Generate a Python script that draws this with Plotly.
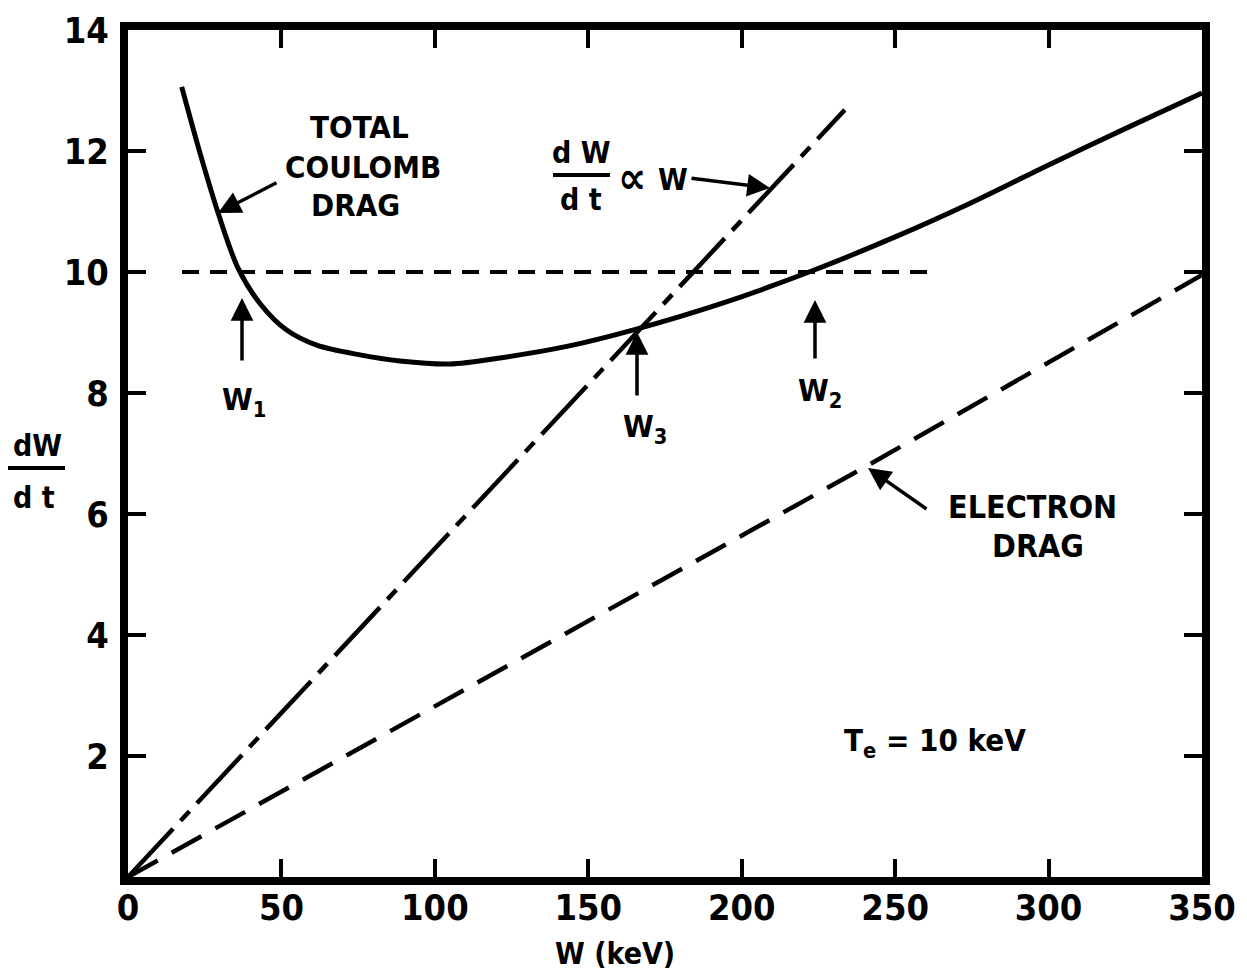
import plotly.graph_objects as go

# ---------------- data ----------------
total_W = [17.5, 23.5, 29.4, 35.9, 43.0, 51.7, 61.5, 75.6, 88.6, 104.9, 121.2, 143.0, 164.5, 194.0, 223.0, 250.0, 275.0, 300.0, 325.0, 350.0]
total_y = [13.06, 11.96, 10.97, 10.06, 9.48, 9.04, 8.79, 8.63, 8.53, 8.48, 8.58, 8.77, 9.04, 9.49, 10.02, 10.58, 11.15, 11.77, 12.37, 12.96]

prop_W = [0.0, 233.6]
prop_y = [0.0, 12.68]

elec_W = [0.0, 241.0, 350.0]
elec_y = [0.0, 6.80, 9.95]

level_W = [17.6, 261.3]
level_y = [10.0, 10.0]

x_ticks = [0, 50, 100, 150, 200, 250, 300, 350]
x_ticktext = ["0", "50", "100", "150", "200", "250", "300", "350"]
y_ticks = [0, 2, 4, 6, 8, 10, 12, 14]
y_ticktext = ["", "2", "4", "6", "8", "10", "12", "14"]

# ---------------- layout helpers ----------------
PAGE_W, PAGE_H = 1247, 978
OFF = 8  # default body margin of the html page
FIG_W, FIG_H = PAGE_W - 2 * OFF, PAGE_H - 2 * OFF
L, R, T, B = 128, 1202, 30, 877   # plot area in page pixels
XMAX, YMAX = 350, 14

def dx(px):
    return (px - L) / (R - L) * XMAX

def dy(py):
    return (B - py) / (B - T) * YMAX

def px_paper(px):
    return (px - L) / (R - L)

def py_paper(py):
    return (B - py) / (B - T)

FONT = "DejaVu Sans Condensed, DejaVu Sans, sans-serif"

fig = go.Figure()

fig.add_trace(go.Scatter(x=total_W, y=total_y, mode="lines", line=dict(color="black", width=5, shape="spline", smoothing=0.9), showlegend=False))
fig.add_trace(go.Scatter(x=prop_W, y=prop_y, mode="lines", line=dict(color="black", width=4.5, dash="66px,11px,13px,11px"), showlegend=False))
fig.add_trace(go.Scatter(x=elec_W, y=elec_y, mode="lines", line=dict(color="black", width=4.5, dash="34px,16px"), showlegend=False))
fig.add_trace(go.Scatter(x=level_W, y=level_y, mode="lines", line=dict(color="black", width=4, dash="17px,11px"), showlegend=False))

annotations = []

def text(px, py, s, size=30):
    annotations.append(dict(x=px_paper(px), y=py_paper(py), xref="paper", yref="paper", text=s, showarrow=False,
                            font=dict(family=FONT, size=size, color="black", weight="bold"), xanchor="center", yanchor="middle"))

def arrow(hx, hy, tx, ty):
    annotations.append(dict(x=dx(hx), y=dy(hy), xref="x", yref="y", ax=tx - hx, ay=ty - hy, axref="pixel", ayref="pixel",
                            text="", showarrow=True, arrowhead=2, arrowsize=1.3, arrowwidth=3.5, arrowcolor="black"))

text(359, 127, "TOTAL", 31)
text(363, 167, "COULOMB", 31)
text(355, 205, "DRAG", 31)
arrow(218, 213, 278, 182)

text(581, 152, "d W", 30)
text(581, 200, "d t", 30)
text(632, 178, "∝", 44)
text(673, 179, "W", 30)
arrow(770, 188, 690, 178)

text(244, 402, "W<sub>1</sub>", 31)
arrow(242, 298, 242, 362)
text(645, 428, "W<sub>3</sub>", 31)
arrow(637, 332, 637, 397)
text(820, 392, "W<sub>2</sub>", 31)
arrow(815, 300, 815, 360)

text(1032, 507, "ELECTRON", 32)
text(1038, 546, "DRAG", 32)
arrow(868, 468, 928, 510)

text(935, 742, "T<sub>e</sub> = 10 keV", 31)

text(37, 445, "dW", 30)
text(34, 497, "d t", 30)
text(615, 953, "W (keV)", 30)

shapes = [
    dict(type="line", xref="paper", yref="paper", x0=px_paper(553), x1=px_paper(610), y0=py_paper(175), y1=py_paper(175), line=dict(color="black", width=4)),
    dict(type="line", xref="paper", yref="paper", x0=px_paper(7), x1=px_paper(65), y0=py_paper(468), y1=py_paper(468), line=dict(color="black", width=4)),
]

axis_common = dict(showline=True, linewidth=8, linecolor="black", mirror="ticks", ticks="inside", ticklen=18,
                   tickwidth=4, tickcolor="black", showgrid=False, zeroline=False, automargin=False,
                   tickfont=dict(family=FONT, size=36, color="black", weight="bold"))

fig.update_layout(
    width=FIG_W, height=FIG_H,
    margin=dict(l=L - OFF, r=(OFF + FIG_W) - R, t=T - OFF, b=(OFF + FIG_H) - B, pad=0, autoexpand=False),
    paper_bgcolor="white", plot_bgcolor="white",
    xaxis=dict(range=[0, XMAX], tickvals=x_ticks, ticktext=x_ticktext, ticklabelstandoff=-8, **axis_common),
    yaxis=dict(range=[0, YMAX], tickvals=y_ticks, ticktext=y_ticktext, ticklabelstandoff=4, **axis_common),
    annotations=annotations, shapes=shapes, showlegend=False,
)

fig.write_html("out.html")
